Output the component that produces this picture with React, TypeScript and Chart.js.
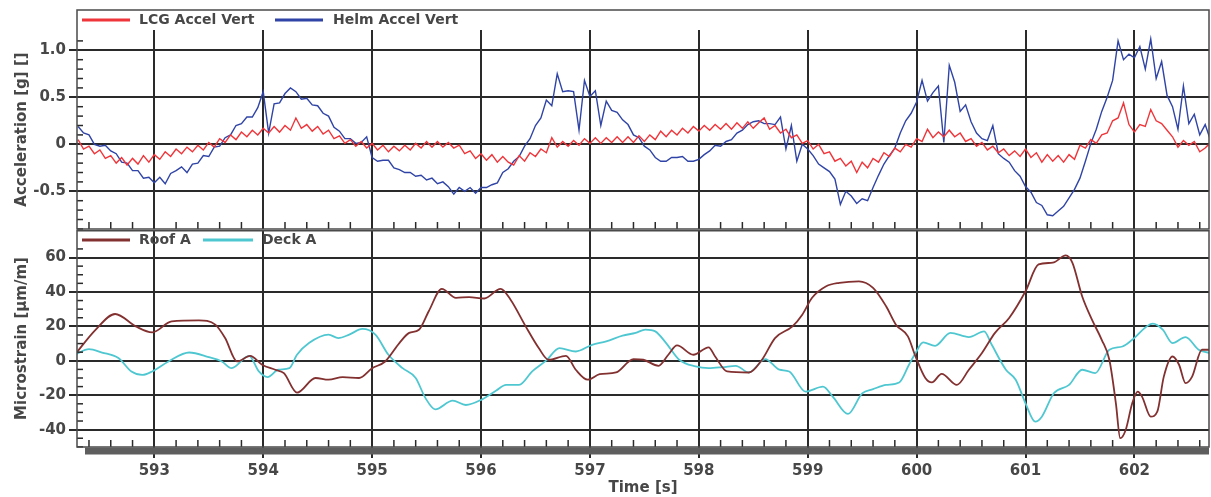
import React, { useEffect, useRef } from "react";
import { Chart, registerables } from "chart.js";

Chart.register(...registerables);

const FONT = '"DejaVu Sans", Verdana, sans-serif';
const TEXT_COLOR = "#474747";
const GRID_COLOR = "#2a2a2a";

// ---- axes ----
const timeRange = [592.29, 602.685];
const timeTicks = [593, 594, 595, 596, 597, 598, 599, 600, 601, 602];
const accelRange = [-0.901, 1.216];
const accelTicks = [-0.5, 0, 0.5, 1.0];
const accelTickLabels = ["-0.5", "0", "0.5", "1.0"];
const strainRange = [-50.1, 76.0];
const strainTicks = [-40, -20, 0, 20, 40, 60];
const strainTickLabels = ["-40", "-20", "0", "20", "40", "60"];

// ---- acceleration data (g), sampled every 0.05 s ----
const accelTime = [
  592.3, 592.35, 592.4, 592.45, 592.5, 592.55, 592.6, 592.65, 592.7, 592.75, 592.8, 592.85, 592.9, 592.95, 593, 593.05, 593.1, 593.15, 593.2, 593.25,
  593.3, 593.35, 593.4, 593.45, 593.5, 593.55, 593.6, 593.65, 593.7, 593.75, 593.8, 593.85, 593.9, 593.95, 594, 594.05, 594.1, 594.15, 594.2, 594.25,
  594.3, 594.35, 594.4, 594.45, 594.5, 594.55, 594.6, 594.65, 594.7, 594.75, 594.8, 594.85, 594.9, 594.95, 595, 595.05, 595.1, 595.15, 595.2, 595.25,
  595.3, 595.35, 595.4, 595.45, 595.5, 595.55, 595.6, 595.65, 595.7, 595.75, 595.8, 595.85, 595.9, 595.95, 596, 596.05, 596.1, 596.15, 596.2, 596.25,
  596.3, 596.35, 596.4, 596.45, 596.5, 596.55, 596.6, 596.65, 596.7, 596.75, 596.8, 596.85, 596.9, 596.95, 597, 597.05, 597.1, 597.15, 597.2, 597.25,
  597.3, 597.35, 597.4, 597.45, 597.5, 597.55, 597.6, 597.65, 597.7, 597.75, 597.8, 597.85, 597.9, 597.95, 598, 598.05, 598.1, 598.15, 598.2, 598.25,
  598.3, 598.35, 598.4, 598.45, 598.5, 598.55, 598.6, 598.65, 598.7, 598.75, 598.8, 598.85, 598.9, 598.95, 599, 599.05, 599.1, 599.15, 599.2, 599.25,
  599.3, 599.35, 599.4, 599.45, 599.5, 599.55, 599.6, 599.65, 599.7, 599.75, 599.8, 599.85, 599.9, 599.95, 600, 600.05, 600.1, 600.15, 600.2, 600.25,
  600.3, 600.35, 600.4, 600.45, 600.5, 600.55, 600.6, 600.65, 600.7, 600.75, 600.8, 600.85, 600.9, 600.95, 601, 601.05, 601.1, 601.15, 601.2, 601.25,
  601.3, 601.35, 601.4, 601.45, 601.5, 601.55, 601.6, 601.65, 601.7, 601.75, 601.8, 601.85, 601.9, 601.95, 602, 602.05, 602.1, 602.15, 602.2, 602.25,
  602.3, 602.35, 602.4, 602.45, 602.5, 602.55, 602.6, 602.65, 602.7,
];

const lcgAccelVert = [
  0.05, -0.05, -0.02, -0.1, -0.06, -0.15, -0.12, -0.2, -0.14, -0.22, -0.15, -0.21, -0.12, -0.19, -0.11, -0.16, -0.08, -0.13, -0.05, -0.1,
  -0.03, -0.08, -0.01, -0.06, 0.02, -0.03, 0.06, 0.02, 0.1, 0.05, 0.13, 0.08, 0.15, 0.1, 0.17, 0.12, 0.19, 0.13, 0.2, 0.15,
  0.28, 0.17, 0.21, 0.14, 0.19, 0.11, 0.15, 0.06, 0.09, 0.01, 0.05, -0.02, 0.03, -0.04, 0.01, -0.06, -0.01, -0.08, -0.02, -0.07,
  -0.01, -0.06, 0.01, -0.04, 0.03, -0.03, 0.03, -0.03, 0.02, -0.04, -0.01, -0.1, -0.07, -0.15, -0.1, -0.17, -0.11, -0.19, -0.13, -0.19,
  -0.22, -0.12, -0.18, -0.09, -0.13, -0.05, -0.09, 0.07, -0.03, 0.03, -0.02, 0.04, -0.01, 0.06, 0.01, 0.07, 0.01, 0.07, 0.02, 0.08,
  0.02, 0.08, 0.02, 0.09, 0.03, 0.1, 0.05, 0.14, 0.08, 0.15, 0.1, 0.17, 0.12, 0.19, 0.14, 0.2, 0.15, 0.21, 0.16, 0.22,
  0.16, 0.23, 0.17, 0.24, 0.17, 0.23, 0.28, 0.16, 0.2, 0.12, 0.16, 0.07, 0.1, 0.01, 0.04, -0.05, 0.0, -0.1, -0.08, -0.18,
  -0.15, -0.23, -0.18, -0.3, -0.19, -0.25, -0.15, -0.19, -0.09, -0.13, -0.04, -0.08, 0.0, -0.03, 0.06, 0.03, 0.16, 0.07, 0.13, 0.08,
  0.15, 0.08, 0.12, 0.03, 0.06, -0.02, 0.02, -0.06, -0.02, -0.09, -0.05, -0.12, -0.07, -0.13, -0.05, -0.14, -0.09, -0.19, -0.11, -0.18,
  -0.12, -0.19, -0.11, -0.16, -0.01, -0.04, 0.05, 0.01, 0.1, 0.12, 0.25, 0.28, 0.44, 0.21, 0.13, 0.21, 0.19, 0.37, 0.25, 0.22,
  0.15, 0.08, -0.03, 0.04, -0.01, 0.03, -0.08, -0.04, 0.02,
];

const helmAccelVert = [
  0.19, 0.12, 0.1, 0.0, -0.02, -0.01, -0.07, -0.1, -0.19, -0.2, -0.28, -0.28, -0.36, -0.35, -0.41, -0.35, -0.42, -0.31, -0.28, -0.24,
  -0.3, -0.21, -0.2, -0.12, -0.13, -0.03, -0.02, 0.07, 0.1, 0.2, 0.22, 0.29, 0.29, 0.39, 0.56, 0.12, 0.43, 0.44, 0.54, 0.6,
  0.56, 0.48, 0.49, 0.42, 0.41, 0.33, 0.3, 0.18, 0.14, 0.06, 0.06, 0.01, 0.02, 0.08, -0.14, -0.18, -0.17, -0.17, -0.25, -0.27,
  -0.3, -0.3, -0.34, -0.33, -0.38, -0.36, -0.42, -0.4, -0.45, -0.53, -0.46, -0.5, -0.46, -0.52, -0.46, -0.46, -0.43, -0.41, -0.3, -0.26,
  -0.18, -0.13, -0.02, 0.06, 0.2, 0.28, 0.47, 0.41, 0.75, 0.56, 0.57, 0.56, 0.15, 0.68, 0.51, 0.57, 0.2, 0.46, 0.36, 0.34,
  0.26, 0.21, 0.1, 0.07, -0.02, -0.06, -0.14, -0.18, -0.18, -0.14, -0.14, -0.13, -0.18, -0.18, -0.16, -0.11, -0.07, -0.01, -0.02, 0.03,
  0.05, 0.12, 0.15, 0.21, 0.24, 0.25, 0.22, 0.22, 0.21, 0.29, -0.05, 0.2, -0.18, 0.0, -0.05, -0.12, -0.21, -0.25, -0.29, -0.37,
  -0.64, -0.5, -0.55, -0.63, -0.58, -0.6, -0.46, -0.33, -0.21, -0.12, -0.04, 0.12, 0.25, 0.33, 0.45, 0.68, 0.46, 0.55, 0.62, 0.02,
  0.84, 0.66, 0.35, 0.42, 0.24, 0.12, 0.06, 0.04, 0.2, -0.1, -0.15, -0.19, -0.28, -0.34, -0.45, -0.51, -0.62, -0.65, -0.75, -0.76,
  -0.71, -0.66, -0.57, -0.48, -0.36, -0.18, 0.01, 0.16, 0.35, 0.5, 0.68, 1.1, 0.9, 0.96, 0.92, 1.04, 0.8, 1.12, 0.7, 0.88,
  0.52, 0.4, 0.16, 0.62, 0.22, 0.32, 0.1, 0.21, 0.04,
];

// ---- microstrain data (µm/m) ----
const roofTime = [
  592.27, 592.46, 592.64, 592.83, 592.98, 593.16, 593.41, 593.56, 593.65, 593.76, 593.88, 593.99, 594.11, 594.19, 594.31, 594.48, 594.6, 594.73, 594.88,
  595.0, 595.12, 595.25, 595.34, 595.43, 595.52, 595.64, 595.77, 595.89, 596.03, 596.18, 596.27, 596.41, 596.53, 596.62, 596.78, 596.87, 596.98,
  597.09, 597.24, 597.4, 597.49, 597.63, 597.72, 597.8, 597.95, 598.09, 598.15, 598.26, 598.46, 598.58, 598.7, 598.86, 598.95,
  599.04, 599.17, 599.29, 599.47, 599.6, 599.72, 599.81, 599.92, 599.99, 600.08, 600.14, 600.23, 600.37, 600.48, 600.6, 600.72, 600.85,
  601.0, 601.12, 601.25, 601.37, 601.43, 601.52, 601.61, 601.7, 601.77, 601.83, 601.87, 601.92, 601.98, 602.03, 602.07, 602.15, 602.21,
  602.27, 602.35, 602.41, 602.47, 602.53, 602.62, 602.69,
];
const roofA = [
  3.5, 18, 27.2, 20, 16.5, 22.9, 23.5, 21, 13.2, -0.4, 2.9, -2.3, -5.2, -7.2, -18.5, -10, -11, -9.5, -10,
  -4.3, -0.4, 10.3, 16.2, 18, 28.8, 41.8, 36.6, 37, 36.2, 41.8, 35.6, 20, 7.4, 0.6, 2.9, -5.2, -11,
  -7.8, -6.8, 1, 0.6, -2.9, 3.5, 8.9, 3.5, 7.8, 2.5, -6.2, -6.8, 0.6, 13.2, 20, 26.8,
  36.6, 43.3, 45.3, 46.2, 42.4, 31.7, 21, 14.2, 2.5, -10, -12.6, -7.6, -14, -5.2, 4.5, 16.2, 24.9,
  40.4, 56, 57, 61.2, 57, 37.5, 23.9, 12.2, 0.6, -24.7, -45, -40.2, -24.7, -17.9, -20.8, -32.5, -29.6,
  -9.2, 2.5, -2.3, -13, -9.2, 6.4, 6.4,
];

const deckTime = [
  592.27, 592.4, 592.52, 592.67, 592.79, 592.89, 592.98, 593.13, 593.32, 593.5, 593.62, 593.71, 593.87, 593.96, 594.04, 594.14, 594.24, 594.31,
  594.42, 594.6, 594.69, 594.79, 594.91, 595.03, 595.15, 595.28, 595.4, 595.49, 595.58, 595.74, 595.86, 596.01, 596.14, 596.23, 596.35, 596.47,
  596.6, 596.72, 596.87, 597.02, 597.15, 597.3, 597.42, 597.51, 597.6, 597.7, 597.82, 597.97, 598.09, 598.22, 598.34, 598.46, 598.61, 598.74,
  598.83, 598.98, 599.14, 599.23, 599.37, 599.5, 599.6, 599.72, 599.84, 599.93, 599.99, 600.06, 600.17, 600.31, 600.48, 600.62, 600.69, 600.82,
  600.91, 601.0, 601.09, 601.15, 601.26, 601.4, 601.52, 601.64, 601.77, 601.89, 601.98, 602.17, 602.26, 602.35, 602.47, 602.59, 602.69,
];
const deckA = [
  3.5, 6.8, 4.8, 1.6, -6.2, -8.2, -6.2, -0.4, 4.8, 2.1, -0.4, -4.3, 2.9, -6.2, -9.5, -5.2, -4.3, 3.5,
  10.3, 15.2, 13.2, 15.2, 18.5, 15.2, 3.5, -4.3, -10, -21.7, -28.2, -23.1, -25.7, -22.4, -17.3, -14, -14, -6.2,
  0.2, 7.4, 5.4, 9.3, 11.3, 14.6, 16.2, 18.1, 17.1, 10.3, 0.6, -3.3, -4.3, -3.7, -2.9, -6.8, 1, -5.2,
  -6.2, -17.9, -15, -20.8, -30.9, -18.9, -16.5, -14, -12.6, -2.3, 4.5, 10.7, 8.7, 16.2, 13.8, 17.1, 9.3, -5.2,
  -11, -24.7, -35.4, -32.5, -18.9, -14, -5.2, -7.2, 6.4, 8.3, 12.2, 21.6, 18.1, 10.3, 13.8, 6.4, 4.5,
];

type LegendItem = { label: string; color: string; x1: number; x2: number; tx: number };

function decorPlugin(cfg: {
  boxTop: number;
  minorStep: number;
  majorStep: number;
  minorMax: number;
  yTitle: string;
  legendY: number;
  legend: LegendItem[];
  bottomAxis: boolean;
}) {
  return {
    id: "decor",
    afterDraw(chart: any) {
      const { ctx, chartArea: a, scales } = chart;
      const xs = scales.x;
      const ys = scales.y;
      ctx.save();
      ctx.strokeStyle = GRID_COLOR;
      ctx.lineWidth = 1.5;
      // minor y ticks (inside, left)
      const k0 = Math.ceil(ys.min / cfg.minorStep);
      const k1 = Math.floor(cfg.minorMax / cfg.minorStep);
      for (let k = k0; k <= k1; k++) {
        const v = k * cfg.minorStep;
        const r = v / cfg.majorStep;
        if (Math.abs(r - Math.round(r)) < 1e-6) continue;
        const y = ys.getPixelForValue(v);
        if (y < a.top || y > a.bottom) continue;
        ctx.beginPath();
        ctx.moveTo(a.left, y);
        ctx.lineTo(a.left + 6, y);
        ctx.stroke();
      }
      // minor x ticks (0.2 s, bottom, pointing up)
      const j0 = Math.ceil(xs.min * 5);
      const j1 = Math.floor(xs.max * 5);
      for (let j = j0; j <= j1; j++) {
        if (j % 5 === 0) continue;
        const x = xs.getPixelForValue(j / 5);
        ctx.beginPath();
        ctx.moveTo(x, a.bottom);
        ctx.lineTo(x, a.bottom - 7);
        ctx.stroke();
      }
      // frame
      ctx.strokeStyle = "#4a4a4a";
      ctx.lineWidth = 1.5;
      ctx.strokeRect(a.left, cfg.boxTop, a.right - a.left, a.bottom - cfg.boxTop);
      // bottom axis band + title
      if (cfg.bottomAxis) {
        ctx.fillStyle = "#5e5e5e";
        ctx.fillRect(a.left + 8, a.bottom + 0.5, a.right - a.left - 8, 7);
        ctx.fillStyle = TEXT_COLOR;
        ctx.font = `bold 15px ${FONT}`;
        ctx.textAlign = "center";
        ctx.textBaseline = "middle";
        ctx.fillText("Time [s]", (a.left + a.right) / 2, a.bottom + 41);
      }
      // y title
      ctx.fillStyle = TEXT_COLOR;
      ctx.font = `bold 15px ${FONT}`;
      ctx.save();
      ctx.translate(22, (a.top + a.bottom) / 2);
      ctx.rotate(-Math.PI / 2);
      ctx.textAlign = "center";
      ctx.textBaseline = "middle";
      ctx.fillText(cfg.yTitle, 0, 0);
      ctx.restore();
      // legend
      ctx.font = `bold 14px ${FONT}`;
      ctx.textAlign = "left";
      ctx.textBaseline = "middle";
      for (const it of cfg.legend) {
        ctx.strokeStyle = it.color;
        ctx.lineWidth = 3;
        ctx.beginPath();
        ctx.moveTo(it.x1, cfg.legendY);
        ctx.lineTo(it.x2, cfg.legendY);
        ctx.stroke();
        ctx.fillStyle = TEXT_COLOR;
        ctx.fillText(it.label, it.tx, cfg.legendY);
      }
      ctx.restore();
    },
  };
}

const tickFont = { family: FONT, size: 15, weight: "bold" };

function makeXScale(showLabels: boolean) {
  return {
    type: "linear",
    min: timeRange[0],
    max: timeRange[1],
    afterBuildTicks: (s: any) => {
      s.ticks = timeTicks.map((v) => ({ value: v }));
    },
    ticks: {
      display: showLabels,
      autoSkip: false,
      maxRotation: 0,
      padding: 4,
      color: TEXT_COLOR,
      font: tickFont,
      callback: (v: any) => String(v),
    },
    grid: { color: GRID_COLOR, lineWidth: 2, drawTicks: showLabels, tickLength: 11 },
    border: { display: false },
    afterFit: (s: any) => {
      s.height = showLabels ? 50 : 0;
      s.paddingLeft = 0;
      s.paddingRight = 0;
      s.paddingTop = 0;
      s.paddingBottom = 0;
    },
  };
}

function makeYScale(range: number[], ticks: number[], labels: string[]) {
  return {
    type: "linear",
    min: range[0],
    max: range[1],
    afterBuildTicks: (s: any) => {
      s.ticks = ticks.map((v) => ({ value: v }));
    },
    ticks: {
      padding: 3,
      color: TEXT_COLOR,
      font: tickFont,
      callback: (v: any) => {
        const i = ticks.findIndex((t) => Math.abs(t - v) < 1e-9);
        return i >= 0 ? labels[i] : "";
      },
    },
    grid: { color: GRID_COLOR, lineWidth: 2, drawTicks: true, tickLength: 8 },
    border: { display: false },
    afterFit: (s: any) => {
      s.width = 77;
      s.paddingTop = 0;
      s.paddingBottom = 0;
      s.paddingLeft = 0;
      s.paddingRight = 0;
    },
  };
}

export default function App() {
  const topRef = useRef<HTMLCanvasElement | null>(null);
  const botRef = useRef<HTMLCanvasElement | null>(null);

  useEffect(() => {
    const top = new Chart(topRef.current as HTMLCanvasElement, {
      type: "line",
      data: {
        datasets: [
          {
            label: "LCG Accel Vert",
            data: accelTime.map((t, i) => ({ x: t, y: lcgAccelVert[i] })),
            borderColor: "#f0353a",
            borderWidth: 1.4,
            pointRadius: 0,
            tension: 0,
          },
          {
            label: "Helm Accel Vert",
            data: accelTime.map((t, i) => ({ x: t, y: helmAccelVert[i] })),
            borderColor: "#2f44a6",
            borderWidth: 1.4,
            pointRadius: 0,
            tension: 0,
          },
        ],
      },
      options: {
        animation: false,
        responsive: false,
        maintainAspectRatio: false,
        layout: { padding: { top: 30, right: 2, bottom: 1, left: 0 } },
        plugins: { legend: { display: false }, tooltip: { enabled: false } },
        scales: {
          x: makeXScale(false),
          y: makeYScale(accelRange, accelTicks, accelTickLabels),
        },
      } as any,
      plugins: [
        decorPlugin({
          boxTop: 10,
          minorStep: 0.1,
          majorStep: 0.5,
          minorMax: 1.2,
          yTitle: "Acceleration [g] []",
          legendY: 20,
          legend: [
            { label: "LCG Accel Vert", color: "#f0353a", x1: 82, x2: 130, tx: 139 },
            { label: "Helm Accel Vert", color: "#2f44a6", x1: 275, x2: 323, tx: 333 },
          ],
          bottomAxis: false,
        }),
      ],
    });

    const bot = new Chart(botRef.current as HTMLCanvasElement, {
      type: "line",
      data: {
        datasets: [
          {
            label: "Roof A",
            data: roofTime.map((t, i) => ({ x: t, y: roofA[i] })),
            borderColor: "#833030",
            borderWidth: 1.8,
            pointRadius: 0,
            cubicInterpolationMode: "monotone",
          },
          {
            label: "Deck A",
            data: deckTime.map((t, i) => ({ x: t, y: deckA[i] })),
            borderColor: "#4fc7d1",
            borderWidth: 1.8,
            pointRadius: 0,
            cubicInterpolationMode: "monotone",
          },
        ],
      },
      options: {
        animation: false,
        responsive: false,
        maintainAspectRatio: false,
        layout: { padding: { top: 0, right: 2, bottom: 0, left: 0 } },
        plugins: { legend: { display: false }, tooltip: { enabled: false } },
        scales: {
          x: makeXScale(true),
          y: makeYScale(strainRange, strainTicks, strainTickLabels),
        },
      } as any,
      plugins: [
        decorPlugin({
          boxTop: 0.75,
          minorStep: 5,
          majorStep: 20,
          minorMax: 65,
          yTitle: "Microstrain [µm/m]",
          legendY: 10,
          legend: [
            { label: "Roof A", color: "#833030", x1: 82, x2: 130, tx: 139 },
            { label: "Deck A", color: "#4fc7d1", x1: 203, x2: 253, tx: 262 },
          ],
          bottomAxis: true,
        }),
      ],
    });

    return () => {
      top.destroy();
      bot.destroy();
    };
  }, []);

  return (
    <div style={{ position: "fixed", left: 0, top: 0, width: 1211, height: 497, background: "#ffffff" }}>
      <canvas ref={topRef} width={1211} height={230} style={{ position: "absolute", left: 0, top: 0 }} />
      <canvas ref={botRef} width={1211} height={267} style={{ position: "absolute", left: 0, top: 230 }} />
    </div>
  );
}
